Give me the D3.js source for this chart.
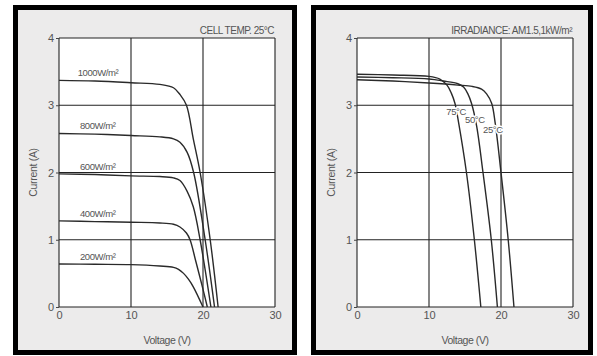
<!DOCTYPE html>
<html>
<head>
<meta charset="utf-8">
<script src="https://cdn.jsdelivr.net/npm/d3@7"></script>
<style>
  body { margin: 0; background: #fff; }
  svg { display: block; }
  text { font-family: "Liberation Sans Narrow", "Arial Narrow", "Liberation Sans", sans-serif; fill: #555; }
</style>
</head>
<body>
<svg id="chart" width="597" height="356"></svg>
<script>
// axis ticks
const voltageTicks = [0, 10, 20, 30];
const currentTicks = [0, 1, 2, 3, 4];

// left panel: irradiance curves at cell temp 25C  [voltage, current]
const irrLabels = ["1000W/m²", "800W/m²", "600W/m²", "400W/m²", "200W/m²"];
const irr1000 = [[0, 3.37], [5, 3.36], [10, 3.335], [14, 3.31], [15.9, 3.26], [16.8, 3.16], [17.7, 3.0], [18.65, 2.5], [19.6, 2.0], [21.0, 1.0], [22.1, 0]];
const irr800 = [[0, 2.58], [5, 2.57], [10, 2.55], [14, 2.53], [15.9, 2.5], [16.8, 2.45], [17.8, 2.3], [18.7, 2.0], [20.3, 1.0], [21.6, 0]];
const irr600 = [[0, 1.98], [5, 1.97], [10, 1.95], [14, 1.94], [15.9, 1.92], [16.8, 1.88], [17.8, 1.72], [18.65, 1.49], [19.6, 1.0], [21.1, 0]];
const irr400 = [[0, 1.28], [5, 1.27], [10, 1.26], [14, 1.25], [15.9, 1.23], [16.8, 1.19], [17.7, 1.1], [18.2, 1.0], [19.0, 0.68], [19.8, 0.35], [20.6, 0]];
const irr200 = [[0, 0.64], [5, 0.635], [10, 0.63], [14, 0.61], [15.9, 0.59], [16.6, 0.56], [17.3, 0.5], [18.0, 0.41], [18.65, 0.3], [20.0, 0]];

// right panel: temperature curves at AM1.5, 1kW/m2
const tempLabels = ["75°C", "50°C", "25°C"];
const temp75 = [[0, 3.46], [5, 3.45], [10, 3.43], [11.5, 3.39], [12.5, 3.3], [13.1, 3.18], [13.6, 3.03], [14.1, 2.75], [15.2, 2.0], [16.3, 1.0], [17.2, 0]];
const temp50 = [[0, 3.42], [5, 3.41], [10, 3.39], [12, 3.36], [14, 3.32], [14.8, 3.27], [15.4, 3.17], [15.9, 3.03], [16.6, 2.7], [17.5, 2.0], [18.65, 1.0], [19.5, 0]];
const temp25 = [[0, 3.38], [5, 3.36], [10, 3.33], [14, 3.3], [16, 3.28], [17.3, 3.24], [18.0, 3.17], [18.7, 3.03], [19.2, 2.73], [20.0, 2.0], [21.0, 1.0], [21.8, 0]];

const svg = d3.select("#chart");

function panel(opts) {
  const g = svg.append("g");

  // black frame with grey inside
  g.append("rect")
    .attr("x", opts.frameX + 2.5).attr("y", 7.5)
    .attr("width", opts.frameW - 5).attr("height", 345)
    .attr("fill", "#ecebeb").attr("stroke", "#000").attr("stroke-width", 5);

  const x = d3.scaleLinear().domain([0, 30]).range([opts.plotX, opts.plotX + 216]);
  const y = d3.scaleLinear().domain([0, 4]).range([307, 38]);

  g.append("rect")
    .attr("x", x(0)).attr("y", y(4))
    .attr("width", x(30) - x(0)).attr("height", y(0) - y(4))
    .attr("fill", "#fff");

  // grid
  g.append("g").selectAll("line").data(voltageTicks).join("line")
    .attr("x1", d => x(d)).attr("x2", d => x(d))
    .attr("y1", y(0)).attr("y2", y(4))
    .attr("stroke", "#222").attr("stroke-width", 1.1);
  g.append("g").selectAll("line").data(currentTicks).join("line")
    .attr("x1", x(0)).attr("x2", x(30))
    .attr("y1", d => y(d)).attr("y2", d => y(d))
    .attr("stroke", "#222").attr("stroke-width", 1.1);

  const yAxis = g.append("g")
    .attr("transform", `translate(${x(0)},0)`)
    .call(d3.axisLeft(y).tickValues(currentTicks).tickFormat(d3.format("d")).tickSize(3).tickPadding(2).tickSizeOuter(0));
  yAxis.select(".domain").remove();
  yAxis.selectAll("line").attr("stroke", "#444");
  yAxis.selectAll("text").style("font-size", "11px").attr("fill", "#555");

  const xAxis = g.append("g")
    .attr("transform", `translate(0,${y(0)})`)
    .call(d3.axisBottom(x).tickValues(voltageTicks).tickSize(0).tickPadding(4));
  xAxis.select(".domain").remove();
  xAxis.selectAll("text").style("font-size", "11px").attr("fill", "#555");

  g.append("text")
    .attr("x", (x(0) + x(30)) / 2).attr("y", 344)
    .attr("text-anchor", "middle").style("font-size", "10.5px")
    .style("letter-spacing", "-0.45px")
    .text("Voltage (V)");

  g.append("text")
    .attr("transform", `translate(${opts.plotX - 22},${(y(0) + y(4)) / 2}) rotate(-90)`)
    .attr("text-anchor", "middle").style("font-size", "10.5px")
    .style("letter-spacing", "-0.3px")
    .text("Current  (A)");

  g.append("text")
    .attr("x", x(30) - 1).attr("y", 34)
    .attr("text-anchor", "end").style("font-size", "10px")
    .style("letter-spacing", "-0.5px")
    .text(opts.title);

  const line = d3.line()
    .x(d => x(d[0])).y(d => y(d[1]))
    .curve(d3.curveCatmullRom.alpha(0.5));

  g.append("g").selectAll("path").data(opts.series).join("path")
    .attr("d", line)
    .attr("fill", "none")
    .attr("stroke", "#2a2a2a")
    .attr("stroke-width", 1.4);

  return { g, x, y };
}

const left = panel({
  frameX: 13, frameW: 284, plotX: 59,
  title: "CELL TEMP. 25°C",
  series: [irr1000, irr800, irr600, irr400, irr200]
});

left.g.append("g").selectAll("text").data([irr1000, irr800, irr600, irr400, irr200]).join("text")
  .attr("x", (d, i) => left.x(i === 0 ? 2.6 : 2.9))
  .attr("y", d => left.y(d[0][1]) - 4)
  .style("font-size", "9.5px")
  .style("letter-spacing", "-0.4px")
  .text((d, i) => irrLabels[i]);

const right = panel({
  frameX: 311, frameW: 282, plotX: 357,
  title: "IRRADIANCE: AM1.5,1kW/m²",
  series: [temp75, temp50, temp25]
});

// temperature labels sit on the curves, masking them
const tempAnchor = [[12.4, 2.86], [15.0, 2.73], [17.5, 2.58]];
right.g.append("g").selectAll("text").data(tempLabels).join("text")
  .attr("x", (d, i) => right.x(tempAnchor[i][0]))
  .attr("y", (d, i) => right.y(tempAnchor[i][1]))
  .style("font-size", "9.5px")
  .style("letter-spacing", "-0.4px")
  .attr("stroke", "#fff").attr("stroke-width", 3)
  .attr("paint-order", "stroke")
  .text(d => d);
</script>
</body>
</html>
